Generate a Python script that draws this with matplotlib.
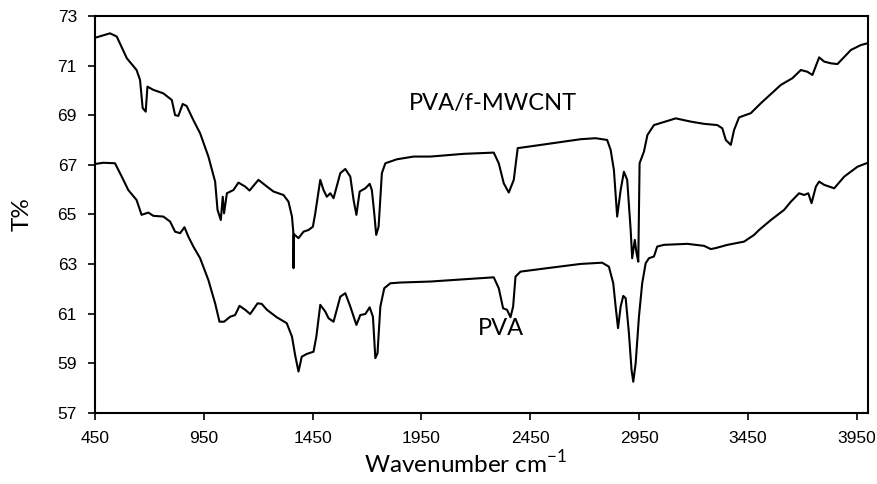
import matplotlib
matplotlib.use("Agg")
import matplotlib.pyplot as plt

# PVA/f-MWCNT spectrum (upper curve)
wn_cnt = [450, 519, 550, 596, 641, 657, 669, 683, 691, 718, 764, 803, 818, 833, 853, 871,
          902, 933, 971, 1002, 1013, 1028, 1037, 1043, 1056, 1086, 1109, 1140, 1160, 1201,
          1240, 1270, 1316, 1339, 1355, 1361, 1362, 1364, 1385, 1408, 1431, 1451, 1462,
          1485, 1500, 1515, 1531, 1546, 1577, 1600, 1623, 1638, 1651, 1666, 1692, 1712,
          1722, 1733, 1742, 1753, 1768, 1784, 1837, 1914, 1991, 2144, 2282, 2305, 2328,
          2351, 2374, 2392, 2466, 2681, 2750, 2803, 2819, 2834, 2849, 2865, 2880, 2895,
          2911, 2918, 2930, 2938, 2946, 2952, 2972, 2988, 3018, 3118, 3187, 3248, 3309,
          3332, 3348, 3371, 3386, 3409, 3463, 3509, 3601, 3654, 3693, 3723, 3746, 3777,
          3800, 3831, 3861, 3923, 3969, 4000]
t_cnt = [72.12, 72.3, 72.17, 71.3, 70.82, 70.42, 69.29, 69.14, 70.15, 70.02, 69.88, 69.61,
         69.0, 68.97, 69.45, 69.37, 68.8, 68.27, 67.33, 66.32, 65.18, 64.77, 65.71, 65.04,
         65.85, 65.98, 66.28, 66.12, 65.96, 66.39, 66.12, 65.92, 65.78, 65.51, 64.91, 64.3,
         62.83, 64.2, 64.04, 64.3, 64.37, 64.5, 65.04, 66.39, 65.98, 65.71, 65.85, 65.65,
         66.66, 66.83, 66.52, 65.58, 64.98, 65.92, 66.05, 66.23, 65.98, 65.04, 64.17, 64.5,
         66.66, 67.06, 67.22, 67.33, 67.33, 67.44, 67.49, 67.06, 66.25, 65.88, 66.39, 67.67,
         67.76, 68.03, 68.07, 68.0, 67.6, 66.79, 64.91, 65.98, 66.72, 66.39, 64.37, 63.23,
         63.97, 63.43, 63.09, 67.06, 67.53, 68.2, 68.6, 68.87, 68.74, 68.65, 68.6, 68.47,
         68.0, 67.8, 68.4, 68.91, 69.08, 69.48, 70.22, 70.49, 70.82, 70.75, 70.62, 71.33,
         71.16, 71.09, 71.06, 71.63, 71.83, 71.9]

# PVA spectrum (lower curve)
wn_pva = [450, 488, 542, 573, 603, 641, 664, 695, 718, 764, 795, 818, 841, 861, 879, 902,
          933, 971, 1002, 1022, 1043, 1071, 1094, 1114, 1140, 1163, 1197, 1216, 1240, 1285,
          1331, 1355, 1370, 1385, 1400, 1423, 1454, 1467, 1485, 1508, 1523, 1546, 1577,
          1600, 1623, 1651, 1669, 1692, 1712, 1727, 1738, 1748, 1761, 1779, 1807, 1853,
          1991, 2144, 2282, 2305, 2325, 2343, 2359, 2371, 2382, 2405, 2528, 2681, 2780,
          2811, 2831, 2842, 2853, 2865, 2877, 2888, 2903, 2915, 2923, 2934, 2949, 2964,
          2980, 2995, 3018, 3033, 3064, 3171, 3248, 3279, 3302, 3356, 3432, 3478, 3501,
          3555, 3616, 3647, 3685, 3708, 3727, 3742, 3762, 3777, 3800, 3846, 3892, 3953, 4000]
t_pva = [67.03, 67.08, 67.06, 66.52, 65.98, 65.58, 64.98, 65.07, 64.94, 64.91, 64.71, 64.3,
         64.24, 64.48, 64.1, 63.7, 63.23, 62.35, 61.41, 60.67, 60.67, 60.87, 60.94, 61.31,
         61.15, 60.98, 61.41, 61.39, 61.15, 60.85, 60.61, 60.07, 59.3, 58.66, 59.26, 59.37,
         59.46, 60.07, 61.35, 61.08, 60.81, 60.67, 61.68, 61.82, 61.28, 60.54, 60.94, 60.98,
         61.25, 60.87, 59.2, 59.4, 61.28, 62.02, 62.22, 62.25, 62.29, 62.38, 62.46, 62.02,
         61.21, 61.15, 60.85, 61.28, 62.49, 62.69, 62.83, 63.0, 63.05, 62.89, 62.22, 61.28,
         60.41, 61.28, 61.71, 61.62, 60.21, 58.73, 58.25, 59.0, 60.87, 62.22, 63.03, 63.23,
         63.3, 63.7, 63.77, 63.81, 63.73, 63.6, 63.64, 63.77, 63.9, 64.17, 64.37, 64.77,
         65.18, 65.51, 65.85, 65.78, 65.85, 65.45, 66.12, 66.32, 66.19, 66.05, 66.52, 66.92,
         67.08]

x_ticks = list(range(450, 4000, 500))
y_ticks = list(range(57, 74, 2))

label_font = "Lato"

fig = plt.figure(figsize=(8.77, 4.84), dpi=100)
ax = fig.add_axes([0.1083, 0.1473, 0.8811, 0.8197])

ax.plot(wn_cnt, t_cnt, color="black", linewidth=1.5)
ax.plot(wn_pva, t_pva, color="black", linewidth=1.5)

ax.text(2278, 69.45, "PVA/f-MWCNT", family=label_font, fontsize=17, ha="center", va="center")
ax.text(2317, 60.38, "PVA", family=label_font, fontsize=17, ha="center", va="center")

ax.set_xlim(450, 4000)
ax.set_ylim(57, 73)
ax.set_xticks(x_ticks)
ax.set_yticks(y_ticks)
ax.tick_params(direction="out", length=5, width=1.2, labelsize=12.5, pad=8)
for lab in ax.get_xticklabels() + ax.get_yticklabels():
    lab.set_family("Liberation Sans")
for sp in ax.spines.values():
    sp.set_linewidth(1.5)

ax.set_xlabel("Wavenumber cm$^{\\mathregular{-1}}$", family=label_font, fontsize=17.5)
ax.xaxis.set_label_coords(0.479, -0.092)
ax.set_ylabel("T%", family=label_font, fontsize=17.5, labelpad=18)

fig.savefig("out.png", dpi=100)
